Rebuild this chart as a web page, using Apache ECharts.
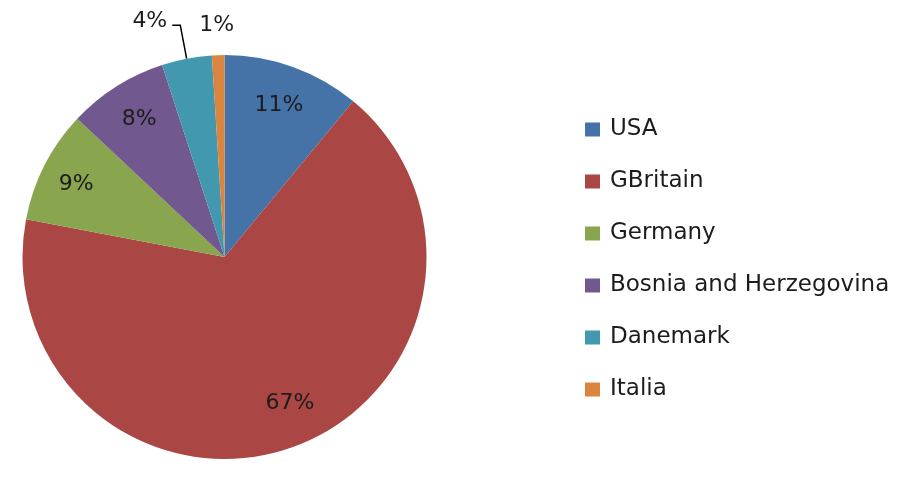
<!DOCTYPE html>
<html>
<head>
<meta charset="utf-8">
<script src="https://cdn.jsdelivr.net/npm/echarts@6/dist/echarts.min.js"></script>
<style>
html,body{margin:0;padding:0;background:#fff;}
#chart{width:900px;height:489px;}
</style>
</head>
<body>
<div id="chart"></div>
<script>
var categories = ['USA', 'GBritain', 'Germany', 'Bosnia and Herzegovina', 'Danemark', 'Italia'];
var values = [11, 67, 9, 8, 4, 1];
var colors = ['#4572A7', '#AA4643', '#89A54E', '#71588F', '#4198AF', '#DB843D'];
var outsideLabels = ['Danemark', 'Italia'];
// small label nudges (px) to mimic the original label placement
var labelNudges = [[-2, 5], [9, -10], [0, 3], [4, 3], [0, -4], [0, 0]];

var font = 'DejaVu Sans';
var textColor = '#1c1c1c';

var mainData = categories.map(function (name, i) {
  var item = { name: name, value: values[i], itemStyle: { color: colors[i] } };
  if (name === 'Danemark') {
    item.label = { show: true, offset: labelNudges[i] };
    item.labelLine = { show: true, length: 34, length2: 8 };
  } else if (name === 'Italia') {
    item.label = { show: true, distanceToLabelLine: 0, offset: labelNudges[i] };
    item.labelLine = { show: false, length: 30, length2: -17 };
  } else {
    item.label = { show: false };
    item.labelLine = { show: false };
  }
  return item;
});

var overlayData = categories.map(function (name, i) {
  return {
    name: name,
    value: values[i],
    label: { show: outsideLabels.indexOf(name) < 0, offset: labelNudges[i] }
  };
});

var chart = echarts.init(document.getElementById('chart'), null, { renderer: 'canvas' });
chart.setOption({
  animation: false,
  backgroundColor: '#ffffff',
  legend: {
    orient: 'vertical',
    left: 580,
    top: 113,
    itemWidth: 15,
    itemHeight: 14,
    itemGap: 29,
    icon: 'rect',
    selectedMode: false,
    textStyle: { fontFamily: font, fontSize: 23, color: textColor, padding: [0, 0, 0, 5] },
    data: categories
  },
  series: [
    {
      type: 'pie',
      center: [224.5, 257],
      radius: [0, 202],
      startAngle: 90,
      clockwise: true,
      avoidLabelOverlap: false,
      silent: true,
      data: mainData,
      label: {
        position: 'outside',
        formatter: '{c}%',
        fontFamily: font,
        fontSize: 22,
        color: textColor,
        distanceToLabelLine: 5
      },
      labelLine: {
        lineStyle: { color: '#000000', width: 1.5 }
      }
    },
    {
      type: 'pie',
      center: [224.5, 257],
      radius: [0, 327],
      startAngle: 90,
      clockwise: true,
      silent: true,
      avoidLabelOverlap: false,
      itemStyle: { color: 'rgba(0,0,0,0)', borderWidth: 0 },
      labelLine: { show: false },
      label: {
        position: 'inside',
        formatter: '{c}%',
        fontFamily: font,
        fontSize: 22,
        color: textColor
      },
      data: overlayData
    }
  ]
});
</script>
</body>
</html>
